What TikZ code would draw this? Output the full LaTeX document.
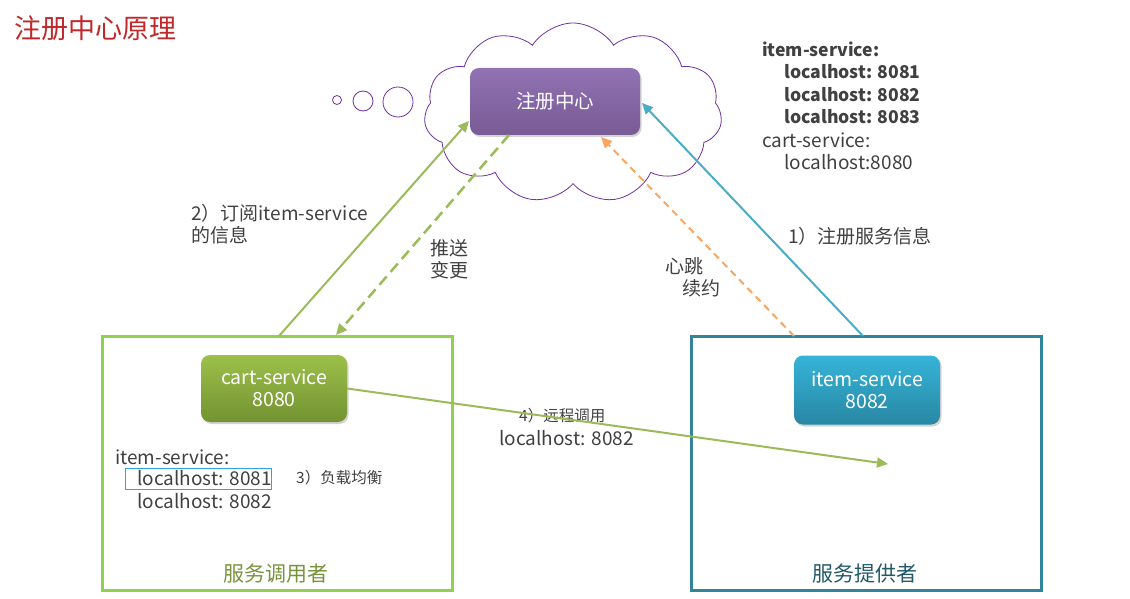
\documentclass[tikz,border=0pt]{standalone}
\usepackage{fontspec}
\setmainfont{Noto Sans CJK SC}
\usetikzlibrary{shapes.symbols,shadows,arrows.meta}
\definecolor{titlered}{HTML}{C0282A}
\definecolor{txt}{HTML}{404040}
\definecolor{cloudc}{HTML}{7030A0}
\definecolor{regtop}{HTML}{9172B4}
\definecolor{regbot}{HTML}{785A94}
\definecolor{gtop}{HTML}{9DC04A}
\definecolor{gbot}{HTML}{739232}
\definecolor{btop}{HTML}{36B4D8}
\definecolor{bbot}{HTML}{2887A4}
\definecolor{lgreen}{HTML}{92D050}
\definecolor{agreen}{HTML}{9BBB59}
\definecolor{teal}{HTML}{31849B}
\definecolor{ateal}{HTML}{4BACC6}
\definecolor{aorange}{HTML}{F79646}
\definecolor{olive}{HTML}{77933C}
\definecolor{dteal}{HTML}{215968}
\definecolor{selblue}{HTML}{2EA6DC}
\tikzset{
  lbl/.style={anchor=west,inner sep=0pt,text=txt,font=\fontsize{19}{22}\selectfont},
  blbl/.style={anchor=west,inner sep=0pt,text=txt,font=\fontsize{17.6}{22}\selectfont\bfseries},
  small/.style={anchor=west,inner sep=0pt,text=txt,font=\fontsize{15.5}{18}\selectfont},
  svc/.style={rounded corners=9pt,minimum width=146pt,minimum height=67pt,text=white,
    align=center,font=\fontsize{19.5}{22}\selectfont,drop shadow={opacity=0.35,shadow xshift=1.5pt,shadow yshift=-2pt}},
  tip/.style={-{Triangle[length=11pt,width=10pt]}},
}
\begin{document}
\begin{tikzpicture}[x=1pt,y=-1pt]
\useasboundingbox (0,0) rectangle (1130,599);
% title
\node[anchor=west,inner sep=0pt,text=titlered,font=\fontsize{27}{30}\selectfont] (title) at (14,28) {注册中心原理};
% cloud
\node[cloud,draw=cloudc,line width=0.8pt,cloud puffs=11,cloud puff arc=115,aspect=1.7,
  minimum width=298pt,minimum height=180pt,inner sep=0pt] (cloud) at (573,113) {};
\draw[cloudc,line width=0.8pt] (337,100) circle (4.5pt);
\draw[cloudc,line width=0.8pt] (363,101) circle (10pt);
\draw[cloudc,line width=0.8pt] (398,102) circle (15pt);
% registry
\node[svc,minimum width=170pt,minimum height=67pt,top color=regtop,bottom color=regbot] (reg) at (555,101.5) {注册中心};
% right text
\node[blbl] (t1) at (762,49) {item-service:};
\node[blbl] (t2) at (784,72) {localhost: 8081};
\node[blbl] (t3) at (784,95) {localhost: 8082};
\node[blbl] (t4) at (784,117) {localhost: 8083};
\node[lbl] (t5) at (762,140) {cart-service:};
\node[lbl] (t6) at (784,162) {localhost:8080};
% boxes
\node[draw=lgreen,line width=3pt,minimum width=350pt,minimum height=254pt,inner sep=0pt] (cbox) at (277,463) {};
\node[draw=teal,line width=3pt,minimum width=350pt,minimum height=254pt,inner sep=0pt] (pbox) at (866,463) {};
\node[text=olive,font=\fontsize{21}{24}\selectfont,inner sep=0pt] (clab) at (276,574) {服务调用者};
\node[text=dteal,font=\fontsize{21}{24}\selectfont,inner sep=0pt] (plab) at (865,574) {服务提供者};
% services
\node[svc,top color=gtop,bottom color=gbot] (cart) at (274,388.5) {cart-service\\8080};
\node[svc,top color=btop,bottom color=bbot,minimum height=69pt] (item) at (867,390) {item-service\\8082};
% consumer text
\node[lbl] (c1) at (115,457) {item-service:};
\node[lbl] (c2) at (137,478) {localhost: 8081};
\node[draw=selblue,line width=0.8pt,minimum width=146pt,minimum height=21pt,inner sep=0pt] (sel) at (198,478.5) {};
\node[lbl] (c3) at (137,501) {localhost: 8082};
\node[small] (lb) at (296,478) {3）负载均衡};
% labels
\node[lbl] (l2a) at (191,213) {2）订阅item-service};
\node[lbl] (l2b) at (191,235) {的信息};
\node[lbl] (p1) at (430,248) {推送};
\node[lbl] (p2) at (430,270) {变更};
\node[lbl] (h1) at (665,266) {心跳};
\node[lbl] (h2) at (682,288) {续约};
\node[lbl] (r1) at (788,236) {1）注册服务信息};
\node[small] (rc1) at (519,416) {4）远程调用};
\node[lbl] (rc2) at (499,438) {localhost: 8082};
% connector endpoints
\coordinate (subS) at (279,336);
\coordinate (subE) at (469,121);
\coordinate (pushS) at (509,135);
\coordinate (pushE) at (336,335);
\coordinate (hbS) at (794,336);
\coordinate (hbE) at (601,137);
\coordinate (regS) at (863,336);
\coordinate (regE) at (642,103);
\coordinate (callE) at (888,464);
% arrows
\draw[tip,agreen,line width=2pt] (subS) -- (subE);
\draw[tip,agreen,line width=2.5pt,dash pattern=on 11pt off 6pt] (pushS) -- (pushE);
\draw[tip,aorange!85,line width=2pt,dash pattern=on 7pt off 5pt] (hbS) -- (hbE);
\draw[tip,ateal,line width=2pt] (regS) -- (regE);
\draw[tip,agreen,line width=2pt] (cart.east) -- (callE);
\end{tikzpicture}
\end{document}
